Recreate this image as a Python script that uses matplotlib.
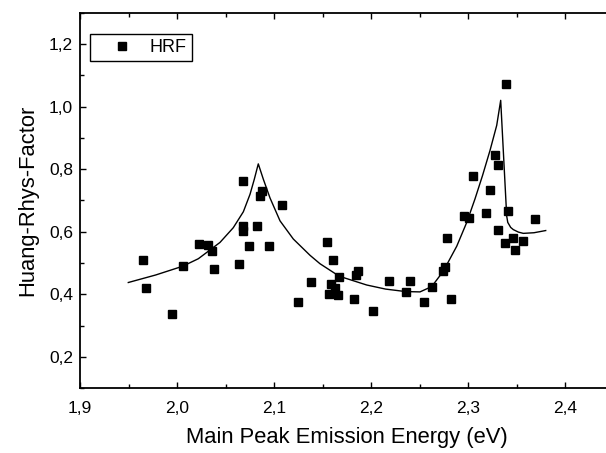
import numpy as np
import matplotlib
matplotlib.use("Agg")
import matplotlib.pyplot as plt
from matplotlib.ticker import MultipleLocator, FuncFormatter

plt.rcParams['font.family'] = ['Liberation Sans', 'DejaVu Sans']

# measured HRF values
energy = [2.0684, 2.0876, 2.0856, 2.1082, 2.0684, 2.0684, 2.0825, 2.0224, 2.0320,
          2.0360, 2.0742, 2.0952, 1.9653, 2.0059, 2.0385, 2.0643, 1.9680, 1.9945,
          2.1244, 2.1380, 2.1543, 2.1605, 2.1673, 2.1845, 2.1866, 2.1585, 2.1626,
          2.1567, 2.1663, 2.1825, 2.2024, 2.2185, 2.2402, 2.2357, 2.2543, 2.2625,
          2.2828, 2.2746, 2.2766, 2.2784, 2.2962, 2.3010, 2.3055, 2.3395, 2.3280,
          2.3306, 2.3227, 2.3189, 2.3410, 2.3687, 2.3306, 2.3378, 2.3464, 2.3564,
          2.3485]
hrf = [0.763, 0.731, 0.713, 0.687, 0.618, 0.602, 0.620, 0.562, 0.559,
       0.540, 0.556, 0.556, 0.510, 0.490, 0.480, 0.498, 0.422, 0.337,
       0.376, 0.440, 0.568, 0.509, 0.457, 0.463, 0.474, 0.432, 0.421,
       0.400, 0.399, 0.386, 0.347, 0.444, 0.442, 0.408, 0.375, 0.425,
       0.386, 0.474, 0.488, 0.581, 0.651, 0.643, 0.779, 1.072, 0.846,
       0.815, 0.733, 0.661, 0.665, 0.640, 0.606, 0.565, 0.579, 0.570,
       0.543]

# fit curve
fit_x = [1.9498, 1.9780, 2.0059, 2.0220, 2.0306, 2.0443, 2.0580, 2.0684, 2.0753,
         2.0797, 2.0838, 2.0890, 2.0959, 2.1062, 2.1199, 2.1371, 2.1474, 2.1673,
         2.1956, 2.2150, 2.2358, 2.2505, 2.2626, 2.2745, 2.2884, 2.2987, 2.3072,
         2.3150, 2.3227, 2.3296, 2.3337, 2.3399, 2.3410, 2.3440, 2.3467, 2.3520,
         2.3570, 2.3680, 2.3801]
fit_y = [0.438, 0.462, 0.490, 0.514, 0.534, 0.566, 0.613, 0.664, 0.720,
         0.768, 0.817, 0.768, 0.708, 0.635, 0.577, 0.525, 0.498, 0.458,
         0.430, 0.417, 0.409, 0.408, 0.425, 0.474, 0.554, 0.630, 0.705,
         0.780, 0.860, 0.940, 1.020, 0.650, 0.630, 0.614, 0.607, 0.599,
         0.595, 0.597, 0.604]

fig = plt.figure(figsize=(6.06, 4.53), dpi=100)
ax = fig.add_axes([80 / 606, 1 - 388.3 / 453, 533.5 / 606, 375.6 / 453])

ax.plot(fit_x, fit_y, color='black', lw=1.0)
ax.plot(energy, hrf, 's', color='black', markersize=5.5, label='HRF')

ax.set_xlim(1.9, 2.45)
ax.set_ylim(0.1, 1.3)
ax.xaxis.set_major_locator(MultipleLocator(0.1))
ax.xaxis.set_minor_locator(MultipleLocator(0.05))
ax.yaxis.set_major_locator(MultipleLocator(0.2))
ax.yaxis.set_minor_locator(MultipleLocator(0.1))
fmt = FuncFormatter(lambda v, p: f"{v:.1f}".replace('.', ','))
ax.xaxis.set_major_formatter(fmt)
ax.yaxis.set_major_formatter(fmt)

ax.tick_params(which='both', direction='in', top=True, right=False, labelsize=12.5, width=1.0)
ax.tick_params(which='major', length=4.5)
ax.tick_params(which='minor', length=3)
ax.tick_params(axis='x', pad=9)
ax.tick_params(axis='y', pad=5)
for s in ax.spines.values():
    s.set_linewidth(1.3)

ax.set_xlabel('Main Peak Emission Energy (eV)', fontsize=15.8, labelpad=8)
ax.set_ylabel('Huang-Rhys-Factor', fontsize=15.8, labelpad=8)

leg = ax.legend(loc='upper left', bbox_to_anchor=(0.0187, 0.9446), fontsize=13,
                numpoints=1, fancybox=False, edgecolor='black', framealpha=1,
                borderpad=0.3, handlelength=2.9, handletextpad=0.1, borderaxespad=0)
leg.get_frame().set_linewidth(1.0)

fig.savefig('out.png', dpi=100)
